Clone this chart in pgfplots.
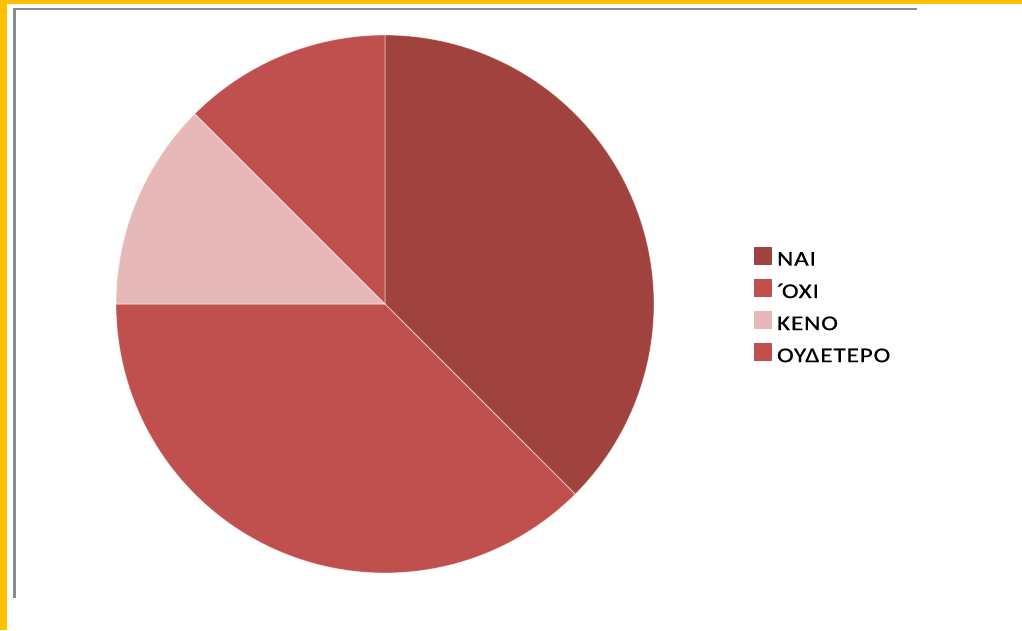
\documentclass[border=0pt]{standalone}
\usepackage{fontspec}
\setmainfont{Carlito}
\newfontfamily\legfont{Carlito}[FakeStretch=1.2, LetterSpace=4, FakeBold=0.6]
\usepackage{pgfplots}
\usepackage{pgfplotstable}
\pgfplotsset{compat=1.18}

\definecolor{naicol}{HTML}{A0433F}
\definecolor{oxicol}{HTML}{C0504D}
\definecolor{kenocol}{HTML}{E6B9B8}
\definecolor{oudcol}{HTML}{C0504D}
\definecolor{frameyellow}{HTML}{FFC000}

% share of each answer
\pgfplotstableread{
label value
NAI   3
OXI   3
KENO  1
OUD   1
}\piedata

\begin{document}
\begin{tikzpicture}[x=1pt,y=1pt]
\fill[white] (0,0) rectangle (1022,630);
\fill[frameyellow] (0,626) rectangle (1022,630);
\fill[frameyellow] (0,0) rectangle (7,630);
\draw[black!45, line width=2.2pt] (14.5,32) -- (14.5,621) -- (917,621);

\pgfplotstablegetelem{0}{value}\of\piedata \let\va\pgfplotsretval
\pgfplotstablegetelem{1}{value}\of\piedata \let\vb\pgfplotsretval
\pgfplotstablegetelem{2}{value}\of\piedata \let\vc\pgfplotsretval
\pgfplotstablegetelem{3}{value}\of\piedata \let\vd\pgfplotsretval
\pgfmathsetmacro{\total}{\va+\vb+\vc+\vd}
\pgfmathsetmacro{\aA}{90}
\pgfmathsetmacro{\aB}{\aA-360*\va/\total}
\pgfmathsetmacro{\aC}{\aB-360*\vb/\total}
\pgfmathsetmacro{\aD}{\aC-360*\vc/\total}
\pgfmathsetmacro{\aE}{\aD-360*\vd/\total}

\begin{axis}[
    at={(385pt,326pt)}, anchor=center,
    width=538pt, height=538pt, scale only axis,
    xmin=-1, xmax=1, ymin=-1, ymax=1,
    hide axis, clip=false,
    samples=90, variable=\t,
    every axis plot/.append style={draw=white, draw opacity=0.55, line width=0.8pt},
    legend style={at={(1.18,0.496)}, anchor=west, draw=none, fill=none,
        font=\legfont\fontsize{21}{25}\selectfont, row sep=9.5pt,
        nodes={inner sep=2pt},
        /tikz/every odd column/.append style={column sep=3pt}},
    legend cell align=left,
    legend image code/.code={\fill[#1, draw=none] (0pt,-5pt) rectangle (18pt,13pt);},
]
\addplot[fill=naicol, domain=\aB:\aA] ({cos(t)},{sin(t)}) -- (0,0) -- cycle;
\addlegendentry{ΝΑΙ}
\addplot[fill=oxicol, domain=\aC:\aB] ({cos(t)},{sin(t)}) -- (0,0) -- cycle;
\addlegendentry{´\kern-2.5pt ΟΧΙ}
\addplot[fill=kenocol, domain=\aD:\aC] ({cos(t)},{sin(t)}) -- (0,0) -- cycle;
\addlegendentry{ΚΕΝΟ}
\addplot[fill=oudcol, domain=\aE:\aD] ({cos(t)},{sin(t)}) -- (0,0) -- cycle;
\addlegendentry{ΟΥΔΕΤΕΡΟ}
\end{axis}
\end{tikzpicture}
\end{document}
